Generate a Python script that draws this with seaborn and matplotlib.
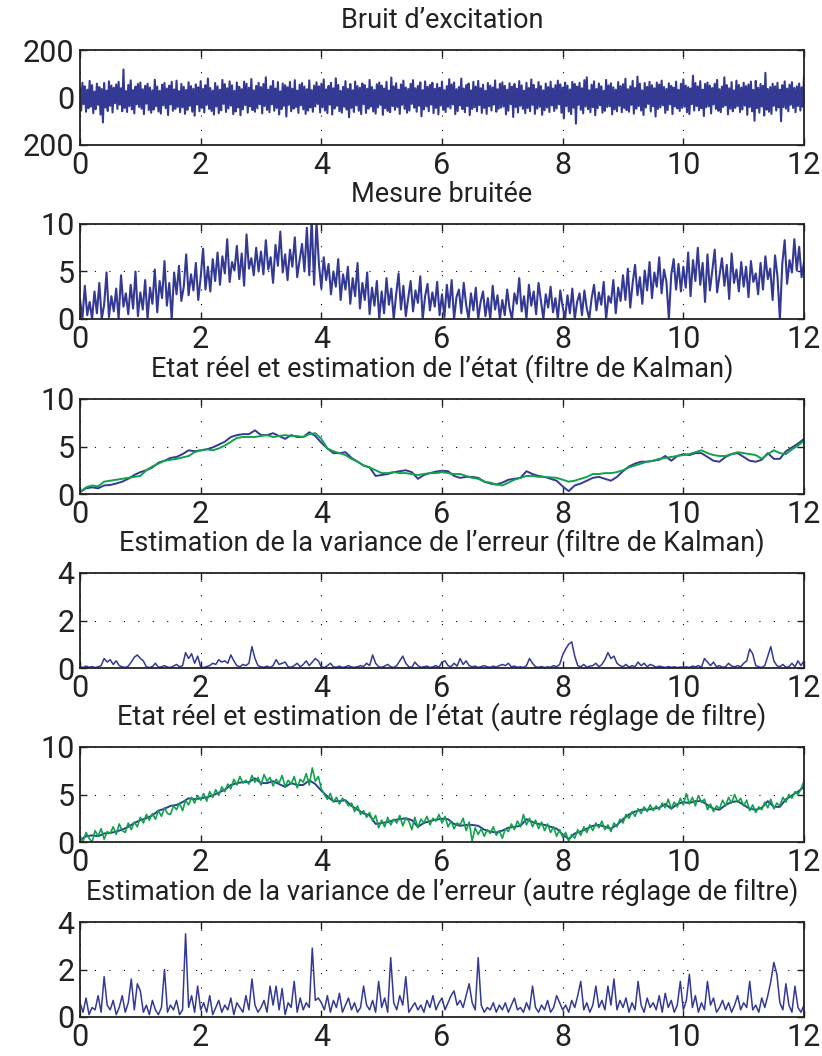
import numpy as np
import pandas as pd
import matplotlib
matplotlib.use("Agg")
import matplotlib.pyplot as plt
import seaborn as sns

# couleurs (bleu / vert façon matlab imprimé)
BLEU = "#343a94"
VERT = "#12a24c"

# Bruit d'excitation (50 points par unité de temps)
bruit = [
    40, -55, 62, -28, 47, -60, 33, -45, 70, -38, 52, -66, 25, -49, 58, -31, 44, -72, 36, -105, 61, -42, 29, -57, 68,
    -35, 50, -63, 41, -24, 55, -48, 66, -30, 39, -58, 118, -44, 27, -61, 53, -36, 72, -50, 31, -67, 46, -29, 57, -40,
    63, -47, 35, -70, 49, -26, 58, -53, 42, -64, 30, -51, 75, -37, 46, -59, 28, -68, 54, -33, 61, -45, 38, -74, 50,
    -29, 66, -56, 34, -48, 71, -39, 27, -62, 57, -41, 45, -69, 32, -52, 64, -35, 48, -60, 37, -77, 55, -30, 43, -58,
    69, -44, 36, -63, 52, -31, 80, -48, 40, -57, 29, -72, 61, -38, 47, -66, 33, -54, 74, -27, 56, -61, 39, -46, 68,
    -34, 51, -70, 28, -59, 63, -42, 45, -75, 35, -50, 67, -32, 58, -64, 41, -37, 78, -53, 30, -60, 49, -45, 62, -28,
    44, -67, 57, -36, 85, -52, 33, -62, 48, -29, 70, -56, 38, -44, 65, -71, 26, -49, 59, -35, 52, -80, 43, -31, 66,
    -58, 37, -47, 73, -40, 29, -65, 54, -33, 61, -50, 46, -69, 35, -55, 72, -42, 31, -60, 50, -38, 64, -27, 47, -63,
    58, -41, 76, -55, 34, -66, 49, -30, 62, -72, 39, -46, 81, -35, 53, -58, 28, -64, 45, -39, 69, -51, 36, -83, 57,
    -44, 30, -61, 67, -33, 48, -56, 41, -70, 59, -28, 52, -65, 37, -47, 74, -38, 44, -59, 32, -68, 56, -42, 63, -31,
    50, -73, 38, -45, 66, -57, 29, -62, 84, -36, 47, -52, 60, -40, 33, -69, 55, -31, 71, -48, 42, -64, 36, -55, 58,
    -27, 73, -43, 39, -60, 49, -35, 64, -79, 31, -50, 68, -38, 45, -58, 53, -30, 62, -66, 37, -44, 57, -71, 41, -34,
    67, -52, 31, -61, 48, -39, 77, -46, 55, -29, 63, -70, 35, -57, 44, -33, 80, -49, 38, -62, 52, -36, 59, -74, 30,
    -48, 66, -41, 46, -58, 70, -32, 39, -65, 54, -44, 28, -69, 61, -37, 50, -55, 42, -30, 72, -60, 35, -47, 58, -43,
    64, -38, 49, -71, 33, -56, 60, -28, 45, -82, 57, -40, 37, -63, 69, -35, 51, -48, 29, -66, 62, -44, 40, -58, 76,
    -31, 53, -69, 36, -47, 65, -39, 48, -73, 30, -54, 59, -42, 44, -61, 67, -33, 38, -57, 52, -46, 71, -29, 55, -64,
    41, -88, 63, -36, 50, -59, 34, -70, 66, -43, 57, -110, 46, -31, 62, -52, 39, -67, 73, -38, 85, -49, 30, -62, 54,
    -41, 68, -75, 36, -45, 59, -33, 47, -64, 28, -56, 74, -40, 51, -37, 60, -71, 43, -50, 33, -58, 65, -35, 48, -62,
    56, -44, 79, -53, 35, -60, 47, -31, 70, -68, 40, -47, 88, -36, 58, -55, 30, -74, 61, -42, 45, -27, 66, -59, 52,
    -37, 39, -80, 63, -48, 55, -42, 71, -33, 44, -65, 36, -53, 60, -29, 49, -70, 41, -38, 67, -46, 32, -57, 58, -44,
    76, -39, 50, -62, 44, -70, 38, -28, 92, -55, 61, -36, 47, -54, 69, -45, 33, -78, 57, -41, 63, -37, 50, -67, 40,
    -29, 58, -48, 74, -56, 35, -62, 46, -40, 85, -33, 52, -71, 39, -47, 65, -58, 30, -44, 71, -36, 53, -61, 42, -50,
    62, -34, 48, -73, 55, -40, 67, -58, 32, -98, 70, -45, 41, -64, 57, -38, 49, -76, 104, -51, 36, -60, 44, -69, 58,
    -35, 47, -55, 62, -42, 33, -100, 52, -40, 68, -47, 38, -58, 54, -31, 65, -44, 40, -62, 47, -36, 59, -55, 43, -39,
    90,
]

# Mesure bruitée
mesure = [
    2.1, 0.0, 3.5, 0.4, 1.8, 0.0, 2.9, 0.6, 3.8, 0.0, 1.5, 4.9, 0.2, 2.4, 0.8, 3.2, 0.0, 4.6, 1.3, 2.7, 0.5, 3.6, 1.1, 5.0, 0.3,
    2.8, 1.0, 4.1, 0.0, 3.3, 1.6, 5.2, 0.7, 4.0, 2.2, 6.1, 1.4, 3.8, 0.0, 4.9, 2.6, 5.6, 1.9, 3.4, 6.8, 2.5, 4.7, 3.0, 5.9, 2.0,
    4.4, 7.4, 3.1, 5.5, 2.9, 6.3, 4.0, 7.0, 3.6, 6.6, 4.8, 8.4, 3.9, 6.0, 5.1, 7.7, 4.2, 6.9, 3.5, 8.9, 5.3, 6.4, 4.6, 7.5, 5.0,
    7.1, 4.7, 8.3, 5.2, 6.5, 3.8, 7.8, 5.6, 9.2, 4.9, 6.8, 4.1, 7.3, 5.5, 8.6, 4.4, 6.2, 7.9, 5.0, 9.6, 4.6, 10.6, 3.6, 10.2, 5.8,
    3.2, 6.5, 4.1, 5.8, 2.6, 5.0, 3.4, 6.3, 2.0, 4.7, 3.1, 5.5, 1.6, 4.3, 2.4, 5.9, 1.1, 3.8, 2.0, 4.9, 0.5, 3.3, 1.4, 4.0, 0.0,
    2.9, 0.6, 4.3, 1.5, 3.2, 0.0, 2.6, 4.8, 1.0, 3.5, 0.3, 2.2, 4.0, 0.8, 3.0, 1.7, 4.5, 0.0, 2.4, 3.7, 0.9, 2.8, 1.3, 3.9, 0.4,
    2.6, 0.2, 3.6, 1.2, 4.1, 0.0, 2.3, 3.1, 0.6, 3.8, 1.5, 0.0, 2.7, 0.9, 3.3, 0.0, 1.8, 2.9, 0.3, 2.2, 0.0, 3.5, 1.0, 2.5, 0.0,
    2.0, 0.4, 3.1, 1.1, 0.0, 2.7, 1.6, 4.3, 0.8, 2.4, 0.0, 3.6, 1.4, 2.9, 0.5, 3.8, 1.9, 0.0, 2.6, 1.2, 3.4, 0.7, 2.2, 0.0, 3.0,
    1.3, 0.0, 2.5, 0.6, 3.2, 0.0, 1.8, 2.7, 0.4, 3.0, 1.1, 0.0, 2.2, 3.6, 0.9, 2.8, 1.5, 3.9, 0.0, 2.4, 1.7, 4.1, 0.6, 3.3, 1.9,
    4.6, 2.0, 5.3, 1.2, 3.8, 5.7, 2.5, 4.4, 1.6, 5.1, 3.0, 6.0, 2.2, 4.9, 3.4, 6.5, 2.7, 5.2, 3.9, 0.0, 4.7, 6.3, 3.1, 5.8, 2.9,
    5.5, 3.3, 7.0, 2.4, 6.2, 4.0, 7.5, 3.6, 5.9, 1.8, 6.8, 3.0, 5.1, 7.3, 2.8, 4.6, 6.4, 3.5, 5.7, 2.1, 6.9, 3.8, 5.2, 2.9, 6.0,
    3.4, 5.5, 2.3, 6.1, 3.9, 4.8, 2.6, 5.9, 3.1, 6.6, 4.2, 5.3, 2.0, 6.7, 4.5, 0.0, 5.8, 8.3, 3.7, 6.2, 4.9, 8.4, 5.1, 7.6, 4.4,
    6.0,
]

# Etat réel (pas de 0.1)
etat_reel = [
    0.2, 0.6, 0.7, 0.6, 0.9, 0.95, 1.1, 1.3, 1.6, 2.0,
    2.3, 2.5, 2.8, 3.3, 3.5, 3.8, 3.9, 4.2, 4.6, 4.5,
    4.6, 4.7, 4.9, 5.2, 5.5, 6.0, 6.2, 6.3, 6.3, 6.7,
    6.2, 6.2, 6.4, 6.1, 5.8, 6.2, 6.0, 6.0, 6.5, 6.1,
    5.4, 4.8, 4.3, 4.3, 4.4, 3.8, 3.4, 3.0, 2.8, 1.9,
    2.0, 2.1, 2.3, 2.4, 2.5, 2.3, 1.6, 2.0, 2.2, 2.35,
    2.45, 2.4, 1.9, 1.7, 1.8, 1.8, 1.7, 1.3, 1.1, 1.0,
    1.2, 1.5, 1.6, 1.7, 2.4, 2.1, 1.9, 1.8, 1.6, 1.4,
    0.8, 0.3, 0.9, 1.1, 1.4, 1.7, 1.8, 1.6, 1.4, 1.8,
    2.4, 2.9, 3.2, 3.4, 3.4, 3.5, 3.6, 4.0, 3.5, 4.0,
    4.2, 4.1, 4.3, 4.3, 3.9, 3.5, 3.4, 3.9, 4.2, 4.3,
    3.9, 3.5, 3.4, 3.6, 4.3, 3.7, 3.7, 4.5, 4.9, 5.3,
    5.8,
]

# Estimation (filtre de Kalman)
estim_kalman = [
    0.2, 0.7, 0.9, 0.8, 1.3, 1.4, 1.5, 1.6, 1.7, 1.8,
    1.9, 2.5, 2.9, 3.2, 3.5, 3.6, 3.7, 3.85, 4.0, 4.4,
    4.6, 4.7, 4.6, 4.8, 5.1, 5.5, 5.9, 6.0, 6.0, 6.0,
    6.1, 6.2, 6.0, 6.1, 6.2, 6.1, 6.1, 6.0, 6.3, 6.4,
    5.8, 4.8, 4.5, 4.3, 4.1, 3.7, 3.4, 3.0, 2.8, 2.5,
    2.2, 2.2, 2.3, 2.2, 2.2, 2.1, 2.0, 2.1, 2.2, 2.2,
    2.3, 2.2, 2.1, 2.1, 1.9, 1.7, 1.6, 1.3, 1.2, 1.0,
    0.9, 1.2, 1.5, 1.7, 1.9, 1.9, 1.8, 1.8, 1.75, 1.7,
    1.5, 1.3, 1.4, 1.6, 1.8, 2.1, 2.1, 2.2, 2.2, 2.3,
    2.5, 2.8, 3.0, 3.2, 3.4, 3.5, 3.7, 3.8, 3.9, 4.0,
    4.1, 4.2, 4.4, 4.6, 4.3, 4.1, 4.0, 4.0, 4.2, 4.4,
    4.3, 4.2, 4.1, 3.7, 4.2, 4.6, 4.3, 4.2, 4.7, 5.1,
    5.6,
]

# Variance de l'erreur (filtre de Kalman), pas de 0.05
var_kalman = [
    0.05, 0.02, 0.08, 0.03, 0.06, 0.02, 0.05, 0.1, 0.4, 0.25, 0.35, 0.15, 0.3, 0.1, 0.05, 0.02, 0.08, 0.25, 0.45, 0.55,
    0.4, 0.3, 0.05, 0.02, 0.06, 0.2, 0.03, 0.05, 0.1, 0.04, 0.02, 0.08, 0.15, 0.05, 0.1, 0.65, 0.4, 0.6, 0.2, 0.5,
    0.05, 0.02, 0.06, 0.1, 0.2, 0.15, 0.35, 0.25, 0.3, 0.2, 0.55, 0.3, 0.1, 0.05, 0.15, 0.1, 0.2, 0.9, 0.4, 0.1,
    0.05, 0.03, 0.08, 0.02, 0.1, 0.35, 0.15, 0.2, 0.25, 0.05, 0.03, 0.1, 0.2, 0.05, 0.15, 0.3, 0.1, 0.25, 0.4, 0.3,
    0.05, 0.02, 0.1, 0.2, 0.05, 0.03, 0.08, 0.02, 0.05, 0.1, 0.04, 0.03, 0.05, 0.1, 0.06, 0.2, 0.1, 0.55, 0.2, 0.05,
    0.03, 0.08, 0.15, 0.05, 0.02, 0.1, 0.3, 0.5, 0.2, 0.05, 0.02, 0.25, 0.1, 0.03, 0.05, 0.08, 0.02, 0.05, 0.1, 0.03,
    0.25, 0.3, 0.1, 0.05, 0.2, 0.08, 0.4, 0.15, 0.3, 0.1, 0.05, 0.08, 0.02, 0.06, 0.1, 0.05, 0.03, 0.08, 0.04, 0.1,
    0.15, 0.1, 0.2, 0.05, 0.08, 0.03, 0.05, 0.02, 0.1, 0.4, 0.2, 0.05, 0.03, 0.06, 0.02, 0.05, 0.03, 0.1, 0.05, 0.15,
    0.55, 0.8, 1.0, 1.1, 0.5, 0.1, 0.05, 0.15, 0.03, 0.08, 0.1, 0.2, 0.05, 0.15, 0.35, 0.65, 0.4, 0.5, 0.2, 0.1,
    0.05, 0.15, 0.03, 0.1, 0.05, 0.25, 0.1, 0.2, 0.05, 0.15, 0.1, 0.03, 0.08, 0.05, 0.02, 0.06, 0.03, 0.05, 0.02, 0.04,
    0.03, 0.05, 0.02, 0.08, 0.05, 0.1, 0.03, 0.4, 0.25, 0.1, 0.25, 0.05, 0.1, 0.03, 0.05, 0.2, 0.08, 0.05, 0.1, 0.05,
    0.2, 0.3, 0.8, 0.6, 0.1, 0.05, 0.02, 0.1, 0.5, 0.9, 0.3, 0.1, 0.05, 0.15, 0.03, 0.05, 0.2, 0.05, 0.3, 0.1,
    0.3,
]

# Estimation (autre réglage de filtre), pas de 0.05
estim_autre = [
    0.5, 0.1, 1.0, 0.4, 0.0, 1.2, 0.6, 1.4, 0.3, 1.1, 0.9, 1.6, 0.8, 1.9, 1.2, 1.0, 2.0, 1.3, 2.1, 1.6,
    2.6, 2.0, 2.9, 2.3, 3.0, 2.4, 3.3, 2.7, 3.6, 3.0, 2.9, 3.8, 3.4, 4.1, 3.3, 4.4, 3.9, 4.7, 4.1, 4.9,
    4.4, 5.1, 4.3, 5.3, 4.7, 5.5, 4.9, 5.8, 5.3, 6.1, 5.6, 6.6, 6.0, 6.9, 6.2, 6.5, 6.1, 7.0, 6.3, 6.8,
    6.0, 7.1, 6.4, 6.8, 5.9, 6.6, 6.2, 7.0, 5.8, 6.5, 6.1, 6.9, 5.7, 6.6, 6.3, 7.2, 6.0, 7.8, 6.4, 6.9,
    5.6, 5.0, 4.5, 5.1, 4.2, 4.7, 4.0, 4.6, 4.3, 3.8, 4.1, 3.2, 3.8, 2.9, 3.3, 2.6, 3.1, 2.2, 2.8, 1.5,
    2.3, 1.6, 2.6, 1.8, 2.4, 2.0, 2.8, 1.7, 2.5, 2.2, 1.3, 2.6, 1.5, 2.4, 2.0, 2.7, 1.8, 2.5, 2.2, 2.9,
    2.0, 2.7, 1.6, 2.2, 1.4, 2.0, 1.8, 2.5, 1.2, 2.1, 0.1, 1.5, 0.8, 1.4, 0.6, 1.3, 0.9, 1.6, 0.7, 1.2,
    0.4, 1.4, 1.1, 1.9, 1.3, 2.2, 1.6, 2.9, 1.8, 2.5, 1.6, 2.3, 1.4, 2.1, 1.2, 1.9, 1.0, 1.6, 0.6, 1.3,
    0.5, 1.0, 0.1, 0.8, 0.4, 1.3, 0.7, 1.6, 1.0, 1.8, 1.2, 2.0, 1.5, 2.2, 1.3, 1.8, 1.1, 2.0, 1.6, 2.4,
    2.0, 2.9, 2.5, 3.2, 2.7, 3.5, 3.0, 3.7, 3.2, 3.9, 3.3, 3.8, 3.4, 4.1, 3.6, 4.5, 3.5, 4.2, 3.7, 4.6,
    3.9, 5.1, 4.0, 4.7, 3.8, 4.9, 4.2, 4.5, 3.4, 4.0, 3.2, 3.8, 3.5, 4.4, 3.8, 4.7, 4.1, 5.0, 4.2, 4.6,
    3.8, 4.4, 3.3, 3.9, 3.1, 3.7, 3.4, 4.2, 3.6, 4.5, 3.5, 4.1, 3.8, 4.7, 4.2, 5.0, 4.6, 5.3, 5.0, 5.6,
    6.4,
]

# Variance de l'erreur (autre réglage de filtre), pas de 0.05
var_autre = [
    0.6, 0.2, 0.8, 0.1, 0.4, 0.3, 0.9, 0.2, 1.7, 0.5, 0.3, 0.7, 0.1, 0.4, 0.9, 0.2, 0.6, 1.6, 0.3, 1.4,
    1.1, 0.2, 0.5, 0.1, 0.7, 0.3, 0.1, 0.4, 2.0, 0.2, 0.5, 0.3, 0.7, 0.1, 0.3, 3.5, 0.4, 0.9, 0.2, 1.3,
    0.3, 0.6, 0.2, 0.9, 0.1, 0.4, 0.7, 0.2, 0.5, 0.3, 0.8, 0.1, 0.6, 0.4, 0.2, 0.9, 0.3, 1.6, 0.5, 0.2,
    0.4, 0.7, 0.2, 1.3, 0.5, 1.3, 0.3, 1.2, 0.1, 0.6, 0.4, 1.5, 0.2, 0.8, 0.3, 0.6, 0.4, 2.9, 0.7, 0.8,
    0.6, 0.3, 0.9, 0.2, 0.7, 0.4, 1.0, 0.2, 0.5, 0.8, 0.3, 0.6, 0.2, 0.4, 1.3, 0.5, 0.3, 0.7, 0.2, 1.5,
    0.4, 0.8, 0.2, 2.5, 0.6, 0.3, 0.9, 0.5, 1.7, 0.2, 0.4, 0.6, 0.3, 0.5, 0.2, 0.7, 0.4, 0.9, 0.3, 0.6,
    0.8, 0.3, 0.6, 0.9, 1.1, 0.5, 0.7, 0.4, 0.9, 1.4, 0.6, 0.3, 2.5, 0.5, 0.2, 0.4, 0.3, 0.6, 0.2, 0.5,
    0.3, 0.6, 0.2, 0.5, 0.8, 0.3, 0.4, 0.2, 0.6, 0.3, 1.3, 0.4, 0.2, 0.5, 0.3, 0.7, 0.2, 0.4, 0.9, 0.6,
    0.3, 0.5, 0.2, 0.7, 0.4, 0.9, 1.5, 0.3, 0.6, 0.2, 0.5, 1.3, 0.4, 0.7, 0.3, 1.3, 0.5, 1.6, 0.3, 0.7,
    0.4, 0.8, 0.2, 0.6, 0.3, 1.5, 0.5, 0.2, 0.8, 0.4, 0.6, 0.3, 0.9, 0.2, 1.0, 0.4, 0.7, 0.2, 0.5, 1.5,
    0.3, 0.7, 1.8, 0.4, 0.9, 0.2, 0.6, 0.3, 1.5, 0.5, 0.8, 0.2, 0.4, 0.7, 0.3, 0.6, 0.2, 0.5, 0.9, 0.3,
    0.6, 0.4, 1.5, 0.3, 0.5, 0.2, 0.8, 0.4, 0.9, 1.5, 2.3, 1.8, 0.6, 0.3, 1.4, 0.5, 0.2, 1.3, 0.4, 0.2,
    0.5,
]

titres = [
    "Bruit d\u2019excitation",
    "Mesure bruitée",
    "Etat réel et estimation de l\u2019état (filtre de Kalman)",
    "Estimation de la variance de l\u2019erreur (filtre de Kalman)",
    "Etat réel et estimation de l\u2019état (autre réglage de filtre)",
    "Estimation de la variance de l\u2019erreur (autre réglage de filtre)",
]
xticks = [0, 2, 4, 6, 8, 10, 12]
yticks = [[-200, 0, 200], [0, 5, 10], [0, 5, 10], [0, 2, 4], [0, 5, 10], [0, 2, 4]]
ylabels = [["200", "0", "200"], ["0", "5", "10"], ["0", "5", "10"],
           ["0", "2", "4"], ["0", "5", "10"], ["0", "2", "4"]]


def temps(vals):
    return np.linspace(0, 12, len(vals))


sns.set_style("ticks")
plt.rcParams["font.family"] = ["Roboto", "DejaVu Sans"]

fig = plt.figure(figsize=(8.22, 10.56), dpi=100)
gauche, largeur, hauteur = 80 / 822, 724 / 822, 95 / 1056
bas = [145, 319, 494, 668, 842, 1017]
axes = [fig.add_axes([gauche, 1 - b / 1056, largeur, hauteur]) for b in bas]

series = [
    [(bruit, BLEU, 1.5)],
    [(mesure, BLEU, 1.5)],
    [(etat_reel, BLEU, 1.4), (estim_kalman, VERT, 1.4)],
    [(var_kalman, BLEU, 1.1)],
    [(etat_reel, BLEU, 1.4), (estim_autre, VERT, 1.2)],
    [(var_autre, BLEU, 1.1)],
]

for i, ax in enumerate(axes):
    for vals, coul, lw in series[i]:
        df = pd.DataFrame({"t": temps(vals), "v": vals})
        sns.lineplot(data=df, x="t", y="v", ax=ax, color=coul, linewidth=lw,
                     estimator=None, sort=False)
    ax.set_xlim(0, 12)
    ax.set_ylim(yticks[i][0], yticks[i][-1])
    ax.set_xticks(xticks)
    ax.set_xticklabels([str(x) for x in xticks])
    ax.set_yticks(yticks[i])
    ax.set_yticklabels(ylabels[i])
    ax.set_xlabel("")
    ax.set_ylabel("")
    ax.grid(True, color="black", linestyle=(0, (1, 12)), linewidth=0.8)
    ax.set_axisbelow(True)
    ax.tick_params(direction="in", length=5, width=1.0, top=True, right=True,
                   labelsize=22, colors="#222222", pad=4)
    for s in ax.spines.values():
        s.set_linewidth(1.3)
        s.set_color("#222222")
    ax.set_title(titres[i], fontsize=19.5, color="#222222", pad=16)

fig.savefig("out.png", dpi=100)
